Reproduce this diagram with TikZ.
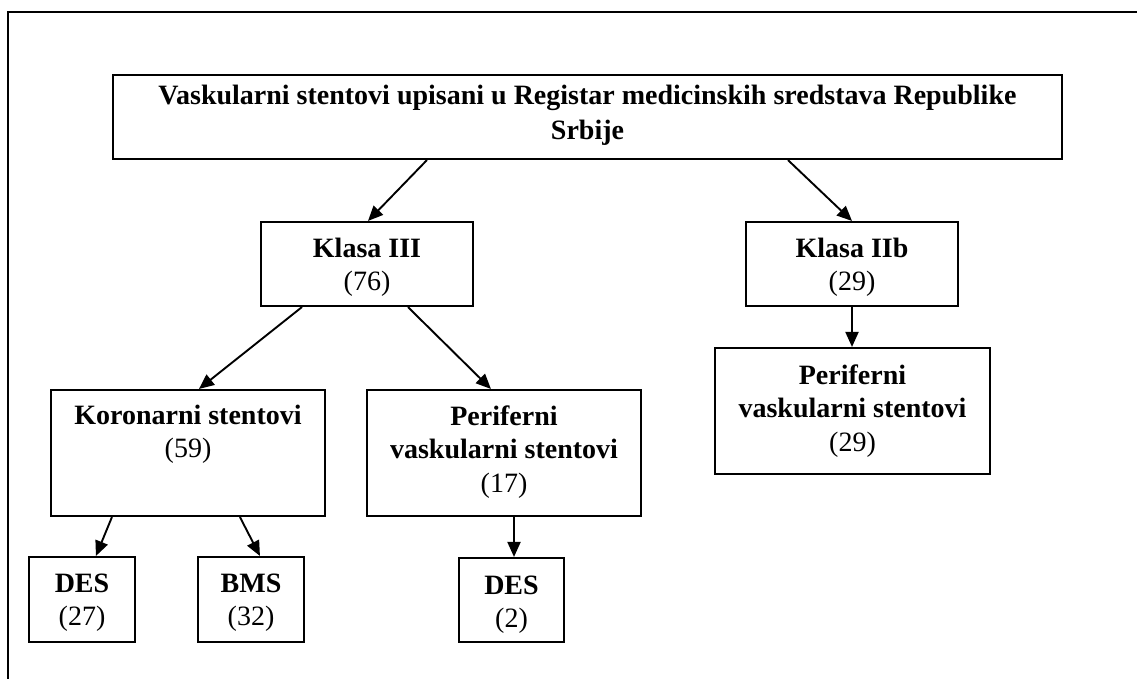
\documentclass[tikz,border=0pt]{standalone}
\usepackage{fontspec}
\setmainfont{Liberation Serif}
\usetikzlibrary{arrows.meta}
\begin{document}
\begin{tikzpicture}[x=1pt,y=-1pt,
  box/.style={draw, line width=2.1pt, inner sep=0pt},
  txt/.style={anchor=north, align=center, inner sep=0pt, font=\fontsize{28}{33.5}\selectfont},
  arr/.style={line width=1.9pt, -{Triangle[length=15pt,width=13pt]}},
  frameline/.style={line width=2.4pt}]
\useasboundingbox (0,0) rectangle (1137,679);
\clip (0,0) rectangle (1137,679);
\draw[frameline] (8,700) -- (8,12) -- (1160,12);

% boxes
\node[box, minimum width=949pt, minimum height=84pt] (top) at (587.5,117) {};
\node[box, minimum width=212pt, minimum height=84pt] (k3) at (367,264) {};
\node[box, minimum width=212pt, minimum height=84pt] (k2b) at (852,264) {};
\node[box, minimum width=275pt, minimum height=126pt] (perR) at (852.5,411) {};
\node[box, minimum width=274pt, minimum height=126pt] (kor) at (188,453) {};
\node[box, minimum width=274pt, minimum height=126pt] (perM) at (504,453) {};
\node[box, minimum width=106pt, minimum height=85pt] (des27) at (82,599.5) {};
\node[box, minimum width=106pt, minimum height=85pt] (bms) at (251,599.5) {};
\node[box, minimum width=105pt, minimum height=84pt] (des2) at (511.5,600) {};

% texts
\node[txt, font=\fontsize{28}{35}\selectfont] (topt) at ([yshift=-6pt]top.north) {\rule{0pt}{24pt}\textbf{Vaskularni stentovi upisani u Registar medicinskih sredstava Republike}\\\textbf{Srbije}};
\node[txt] (k3t) at ([yshift=-12pt]k3.north) {\rule{0pt}{24pt}\textbf{Klasa III}\\(76)};
\node[txt] (k2bt) at ([yshift=-12pt]k2b.north) {\rule{0pt}{24pt}\textbf{Klasa IIb}\\(29)};
\node[txt] (perRt) at ([yshift=-13pt]perR.north) {\rule{0pt}{24pt}\textbf{Periferni}\\\textbf{vaskularni stentovi}\\(29)};
\node[txt] (kort) at ([yshift=-11pt]kor.north) {\rule{0pt}{24pt}\textbf{Koronarni stentovi}\\(59)};
\node[txt] (perMt) at ([yshift=-12pt]perM.north) {\rule{0pt}{24pt}\textbf{Periferni}\\\textbf{vaskularni stentovi}\\(17)};
\node[txt] (des27t) at ([yshift=-12pt]des27.north) {\rule{0pt}{24pt}\textbf{DES}\\(27)};
\node[txt] (bmst) at ([yshift=-12pt]bms.north) {\rule{0pt}{24pt}\textbf{BMS}\\(32)};
\node[txt] (des2t) at ([yshift=-13pt]des2.north) {\rule{0pt}{24pt}\textbf{DES}\\(2)};

% connectors
\draw[arr] ([xshift=315pt]top.south west) -- ([xshift=1pt]k3.north);
\draw[arr] ([xshift=676pt]top.south west) -- (k2b.north);
\draw[arr] (k2b.south) -- (k2b.south |- perR.north);
\draw[arr] ([xshift=42pt]k3.south west) -- ([xshift=149pt]kor.north west);
\draw[arr] ([xshift=148pt]k3.south west) -- ([xshift=125pt]perM.north west);
\draw[arr] ([xshift=2.5pt]des2.north |- perM.south) -- ([xshift=2.5pt]des2.north);
\draw[arr] ([xshift=62pt]kor.south west) -- ([xshift=68pt]des27.north west);
\draw[arr] ([xshift=190pt]kor.south west) -- ([xshift=63pt]bms.north west);
\end{tikzpicture}
\end{document}
